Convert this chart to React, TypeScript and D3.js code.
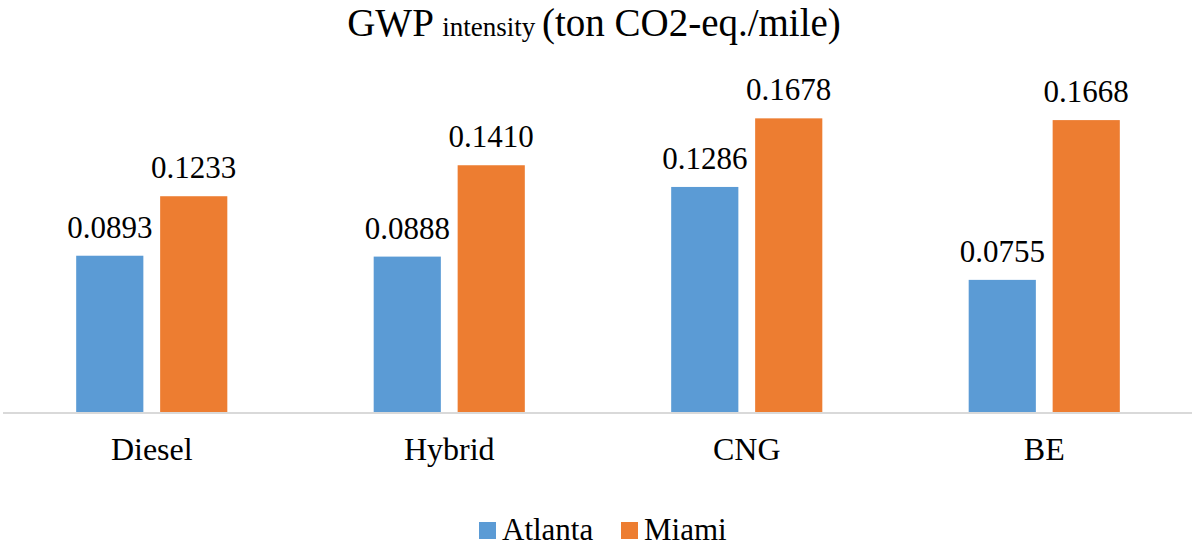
import React from "react";
import * as d3 from "d3";

const categories = ["Diesel", "Hybrid", "CNG", "BE"];
const seriesNames = ["Atlanta", "Miami"];
const atlanta = [0.0893, 0.0888, 0.1286, 0.0755];
const miami = [0.1233, 0.141, 0.1678, 0.1668];
const colors = ["#5B9BD5", "#ED7D31"];

const W = 1192;
const H = 546;
const FONT = "'Liberation Serif', 'Times New Roman', serif";

export default function App() {
  const seriesValues = [atlanta, miami];
  const x0 = d3.scaleBand<string>().domain(categories).range([3, 1193]).paddingInner(0.492).paddingOuter(0.246);
  const x1 = d3.scaleBand<string>().domain(seriesNames).range([0, x0.bandwidth()]).paddingInner(0.2);
  const y = d3.scaleLinear().domain([0, 0.18]).range([412, 97]);

  return (
    <svg width={W} height={H} style={{ position: "absolute", left: 0, top: 0, background: "#fff" }}>
      <rect x={0} y={0} width={W} height={H} fill="#fff" />
      <text x={594} y={36} textAnchor="middle" fontFamily={FONT} fill="#000">
        <tspan fontSize={39}>GWP </tspan>
        <tspan fontSize={27}>intensity </tspan>
        <tspan fontSize={39}>(ton CO2-eq./mile)</tspan>
      </text>
      <line x1={3} x2={1192} y1={y(0) + 1} y2={y(0) + 1} stroke="#D9D9D9" strokeWidth={2} />
      {categories.map((c, i) => (
        <g key={c}>
          {seriesNames.map((s, j) => {
            const v = seriesValues[j][i];
            const bx = (x0(c) ?? 0) + (x1(s) ?? 0);
            return (
              <g key={s}>
                <rect x={bx} y={y(v)} width={x1.bandwidth()} height={y(0) - y(v)} fill={colors[j]} />
                <text x={bx + x1.bandwidth() / 2} y={y(v) - 18} textAnchor="middle" fontFamily={FONT} fontSize={31} fill="#000">
                  {v.toFixed(4)}
                </text>
              </g>
            );
          })}
          <text x={(x0(c) ?? 0) + x0.bandwidth() / 2} y={460} textAnchor="middle" fontFamily={FONT} fontSize={32} fill="#000">
            {c}
          </text>
        </g>
      ))}
      {seriesNames.map((s, j) => {
        const lx = j === 0 ? 479 : 621;
        return (
          <g key={s}>
            <rect x={lx} y={522} width={17} height={17} fill={colors[j]} />
            <text x={lx + 23} y={540} fontFamily={FONT} fontSize={31} fill="#000">
              {s}
            </text>
          </g>
        );
      })}
    </svg>
  );
}
